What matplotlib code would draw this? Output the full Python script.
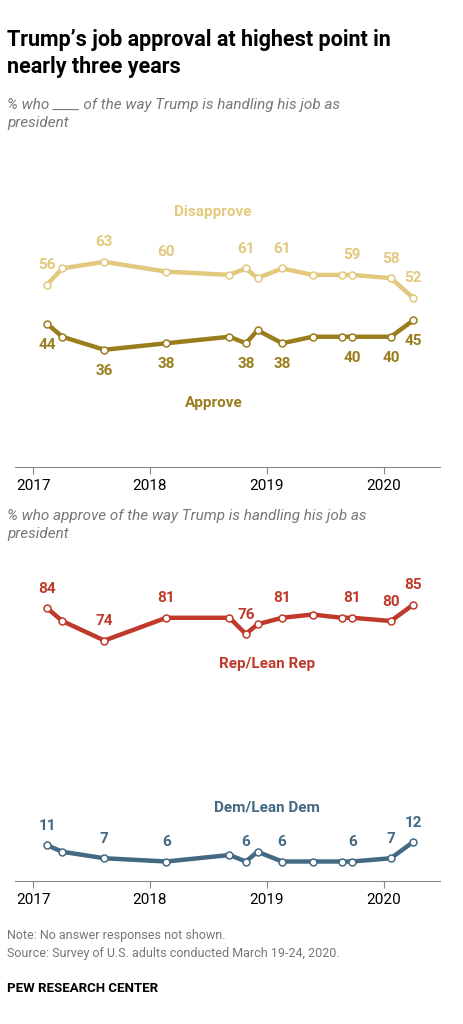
import matplotlib.pyplot as plt

plt.rcParams['font.family'] = ['Roboto', 'DejaVu Sans']

dates = [2017.12, 2017.25, 2017.61, 2018.14, 2018.68, 2018.82, 2018.92,
         2019.13, 2019.39, 2019.64, 2019.73, 2020.06, 2020.25]
disapprove = [56, 61, 63, 60, 59, 61, 58, 61, 59, 59, 59, 58, 52]
approve = [44, 40, 36, 38, 40, 38, 42, 38, 40, 40, 40, 40, 45]
rep = [84, 80, 74, 81, 81, 76, 79, 81, 82, 81, 81, 80, 85]
dem = [11, 9, 7, 6, 8, 6, 9, 6, 6, 6, 6, 7, 12]
labeled = [0, 2, 3, 5, 7, 10, 11, 12]
years = [2017, 2018, 2019, 2020]

W, H = 464, 1024
fig = plt.figure(figsize=(W / 100, H / 100), dpi=100)


def make_axes(top_px, bottom_px):
    ax = fig.add_axes([15 / W, 1 - bottom_px / H, 425 / W, (bottom_px - top_px) / H])
    ax.set_xlim(2016.846, 2020.48)
    for s in ['top', 'right', 'left']:
        ax.spines[s].set_visible(False)
    ax.spines['bottom'].set_color('#888888')
    ax.set_yticks([])
    ax.set_xticks(years)
    ax.set_xticklabels([str(y) for y in years], fontsize=11)
    ax.tick_params(axis='x', length=5, color='#888888', pad=4)
    return ax


def draw(ax, vals, color, above):
    ax.plot(dates, vals, color=color, lw=3.2, marker='o', ms=5,
            mfc='white', mec=color, mew=1.1, solid_capstyle='round', zorder=3)
    for i in labeled:
        ax.annotate(str(vals[i]), (dates[i], vals[i]),
                    xytext=(0, 9 if above else -10), textcoords='offset points',
                    ha='center', va='bottom' if above else 'top',
                    fontsize=11, fontweight='bold', color=color)


dis_c, app_c = '#E3C97E', '#9A7D1C'
rep_c, dem_c = '#BF3A2B', '#436983'

ax1 = make_axes(200, 467)
ax1.set_ylim(0, 82)
draw(ax1, disapprove, dis_c, True)
draw(ax1, approve, app_c, False)
ax1.text(2018.54, 77, 'Disapprove', color=dis_c, fontsize=11, fontweight='bold', ha='center')
ax1.text(2018.55, 18.5, 'Approve', color=app_c, fontsize=11, fontweight='bold', ha='center')

ax2 = make_axes(570, 881)
ax2.set_ylim(0, 95.7)
draw(ax2, rep, rep_c, True)
draw(ax2, dem, dem_c, True)
ax2.text(2019.0, 65.5, 'Rep/Lean Rep', color=rep_c, fontsize=11, fontweight='bold', ha='center')
ax2.text(2019.0, 21.5, 'Dem/Lean Dem', color=dem_c, fontsize=11, fontweight='bold', ha='center')

fig.text(7 / W, 1 - 78 / H, 'Trump\u2019s job approval at highest point in\nnearly three years',
         fontsize=15.5, fontweight='bold', va='bottom', linespacing=1.3)
fig.text(7 / W, 1 - 130 / H, '% who ____ of the way Trump is handling his job as\npresident',
         fontsize=11, style='italic', color='#777777', va='bottom', linespacing=1.4)
fig.text(7 / W, 1 - 541 / H, '% who approve of the way Trump is handling his job as\npresident',
         fontsize=11, style='italic', color='#777777', va='bottom', linespacing=1.4)
fig.text(7 / W, 1 - 960 / H, 'Note: No answer responses not shown.\nSource: Survey of U.S. adults conducted March 19-24, 2020.',
         fontsize=9, color='#777777', va='bottom', linespacing=1.5)
fig.text(7 / W, 1 - 995 / H, 'PEW RESEARCH CENTER', fontsize=9.5, fontweight='bold', va='bottom')

fig.savefig('out.png', dpi=100)
